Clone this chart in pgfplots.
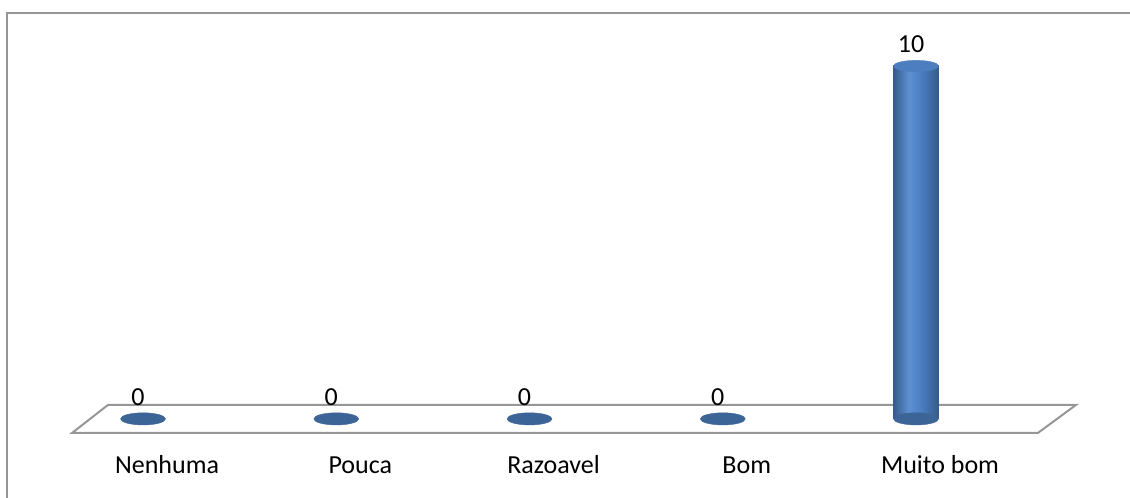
\documentclass[border=0pt]{standalone}
\usepackage{pgfplots}
\pgfplotsset{compat=1.18}
\usepackage{fontspec}
\setmainfont{Carlito}
\definecolor{cdark}{HTML}{365B8A}
\definecolor{clight}{HTML}{5D90D3}
\definecolor{cmid}{HTML}{4A7DC0}
\definecolor{ellip}{HTML}{3C6496}
\definecolor{ctop}{HTML}{4D7EBF}
\definecolor{floorc}{HTML}{969696}
\pgfdeclarehorizontalshading{cyl}{100bp}{color(0bp)=(cdark); color(25bp)=(cdark); color(42bp)=(clight); color(56bp)=(cmid); color(75bp)=(cdark); color(100bp)=(cdark)}
\begin{document}
\begin{tikzpicture}[x=1pt,y=1pt]
\useasboundingbox (0,0) rectangle (1130,498);
\draw[color=floorc, line width=2.2pt] (7,0) -- (7,485) -- (1130,485);
\begin{axis}[
  at={(46.4pt,65pt)}, anchor=south west,
  scale only axis, width=1062.9pt, height=402.3pt,
  xmin=-0.5, xmax=5, ymin=-0.4, ymax=11,
  clip=false,
  /pgf/number format/assume math mode=true,
  axis line style={draw=none},
  ytick=\empty,
  xtick={0,1,2,3,4},
  xticklabels={Nenhuma,Pouca,Razoavel,Bom,Muito bom},
  major tick length=0pt,
  xticklabel style={font=\fontsize{26}{30}\selectfont, anchor=base, xshift=24pt, yshift=-40pt},
]
\draw[floorc, line width=2pt] (axis cs:-0.181,0.397) -- (axis cs:4.828,0.397) -- (axis cs:4.631,-0.397) -- (axis cs:-0.367,-0.397) -- cycle;
\addplot[only marks, mark=*, mark size=22.5pt, mark options={yscale=0.27, fill=ellip, draw=ellip}] coordinates {(0,0) (1,0) (2,0) (3,0) (4,0)};
\addplot[ybar, bar width=45pt, draw=cdark, line width=0pt, shade, shading=cyl] coordinates {(4,10)};
\addplot[only marks, mark=*, mark size=22.5pt, mark options={yscale=0.25, fill=ctop, draw=ctop}] coordinates {(4,10)};
\addplot[draw=none, nodes near coords, nodes near coords style={anchor=south, inner sep=0pt, yshift=13pt, xshift=-5pt, font=\fontsize{26}{30}\selectfont, text=black}] coordinates {(0,0) (1,0) (2,0) (3,0) (4,10)};
\end{axis}
\end{tikzpicture}
\end{document}
